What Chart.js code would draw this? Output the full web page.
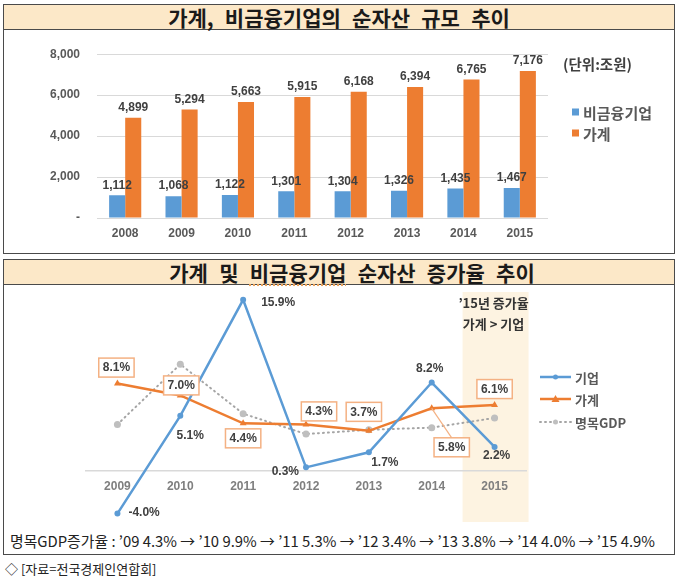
<!DOCTYPE html>
<html>
<head>
<meta charset="utf-8">
<script src="https://cdn.jsdelivr.net/npm/chart.js@4.4.1/dist/chart.umd.min.js"></script>
<style>
  html,body{margin:0;padding:0;}
  body{width:680px;height:580px;background:#fff;position:relative;overflow:hidden;font-family:"Noto Sans CJK KR","Noto Sans",sans-serif;}
  .box{position:absolute;left:3px;width:672px;border:1.5px solid #4a4a4a;box-sizing:border-box;}
  .tbar{height:24px;background:#FCE8C8;border-bottom:1.5px solid #4a4a4a;text-align:center;font-weight:700;font-size:21px;line-height:24px;color:#1a1a1a;white-space:nowrap;word-spacing:6.5px;box-sizing:content-box;}
  canvas{position:absolute;}
  .note{position:absolute;white-space:nowrap;color:#222;}
  .sq{text-decoration:underline dotted #E9A25A;text-underline-offset:3px;}
</style>
</head>
<body>
<div class="box" style="top:4px;height:250px;"><div class="tbar">가계, 비금융기업의 순자산 규모 추이</div></div>
<div class="box" style="top:259px;height:296px;"><div class="tbar" style="padding-left:26px;width:calc(100% - 26px);">가계 및 <span class="sq">비금융기업</span> 순자산 증가율 추이</div></div>
<canvas id="c1" width="670" height="222" style="left:4px;top:30px;width:670px;height:222px;"></canvas>
<canvas id="c2" width="670" height="240" style="left:4px;top:284px;width:670px;height:240px;"></canvas>
<div class="note" id="unit" style="left:563px;top:53px;font-size:14.5px;font-weight:700;color:#404040;">(단위:조원)</div>
<div class="note" id="gdpline" style="left:10px;top:530px;font-size:15px;transform-origin:0 0;"></div>
<div class="note" style="left:5px;top:559px;font-size:13px;">◇ [자료=전국경제인연합회]</div>
<script>
// ---------- data ----------
const assetYears = ['2008','2009','2010','2011','2012','2013','2014','2015'];
const corpAssets = [1112, 1068, 1122, 1301, 1304, 1326, 1435, 1467];
const houseAssets = [4899, 5294, 5663, 5915, 6168, 6394, 6765, 7176];
const assetTickLabels = ['-', '2,000', '4,000', '6,000', '8,000'];

const growthYears = ['2009','2010','2011','2012','2013','2014','2015'];
const corpGrowth = [-4.0, 5.1, 15.9, 0.3, 1.7, 8.2, 2.2];
const houseGrowth = [8.1, 7.0, 4.4, 4.3, 3.7, 5.8, 6.1];
const gdpGrowth = [4.3, 9.9, 5.3, 3.4, 3.8, 4.0, 4.9];

const BLUE = '#5B9BD5', ORANGE = '#ED7D31', GRAY = '#A5A5A5';
const NUMFONT = '"Liberation Sans","DejaVu Sans",sans-serif';
const KRFONT = '"Noto Sans CJK KR",sans-serif';

// ---------- chart 1 : bars ----------
const barPlugin = {
  id: 'barExtras',
  afterDatasetsDraw(chart) {
    const ctx = chart.ctx;
    ctx.save();
    ctx.font = 'bold 12px ' + NUMFONT;
    ctx.fillStyle = '#404040';
    ctx.textAlign = 'center';
    ctx.textBaseline = 'bottom';
    chart.data.datasets.forEach((ds, di) => {
      chart.getDatasetMeta(di).data.forEach((el, i) => {
        ctx.fillText(ds.data[i].toLocaleString('en-US'), el.x, el.y - 4);
      });
    });
    // legend
    const lx = chart.chartArea.right + 24;
    const ly = [82, 103];
    ctx.font = 'bold 15px ' + KRFONT;
    ctx.textAlign = 'left';
    ctx.textBaseline = 'middle';
    chart.data.datasets.forEach((ds, di) => {
      ctx.fillStyle = ds.backgroundColor;
      ctx.fillRect(lx, ly[di] - 3.5, 7, 7);
      ctx.fillStyle = '#595959';
      ctx.fillText(ds.label, lx + 11, ly[di] + 1);
    });
    ctx.restore();
  }
};

new Chart(document.getElementById('c1'), {
  type: 'bar',
  data: {
    labels: assetYears,
    datasets: [
      { label: '비금융기업', data: corpAssets, backgroundColor: BLUE, categoryPercentage: 0.57, barPercentage: 1 },
      { label: '가계', data: houseAssets, backgroundColor: ORANGE, categoryPercentage: 0.57, barPercentage: 1 }
    ]
  },
  options: {
    responsive: false, animation: false, devicePixelRatio: 1,
    layout: { padding: { left: 43, right: 126, top: 24, bottom: 0 } },
    plugins: { legend: { display: false }, tooltip: { enabled: false } },
    scales: {
      x: {
        grid: { display: false, drawTicks: false },
        border: { display: false },
        ticks: { color: '#595959', font: { family: NUMFONT, size: 12, weight: 'bold' }, padding: 8 },
        afterFit(s) { s.height = 34; }
      },
      y: {
        min: 0, max: 8000,
        ticks: { stepSize: 2000, color: '#595959', font: { family: NUMFONT, size: 12, weight: 'bold' }, padding: 17,
                 callback: (v, i) => assetTickLabels[i] },
        grid: { color: '#D9D9D9', lineWidth: 1, drawTicks: false },
        border: { display: false },
        afterFit(s) { s.width = 50; }
      }
    }
  },
  plugins: [barPlugin]
});

// ---------- chart 2 : lines ----------
// label placement (offsets from point), not data
const corpLabelPlace = [[11,-1,'left'],[10,20,'center'],[18,3,'left'],[-7,4,'right'],[16,10,'center'],[-2,-14,'center'],[2,9,'center']];
const houseLabelPlace = [[-1,-16],[1,-10],[0,15],[13,-13],[-5,-19],[20,39],[0,-16]];

const linePlugin = {
  id: 'lineExtras',
  beforeDraw(chart) {
    const ctx = chart.ctx, xs = chart.scales.x;
    const x = xs.getPixelForValue(growthYears.length - 1);
    ctx.save();
    ctx.fillStyle = '#FDF3E1';
    ctx.fillRect(x - 32, 8, 66, 230);
    ctx.fillStyle = '#333';
    ctx.font = 'bold 13px ' + KRFONT;
    ctx.textAlign = 'center';
    ctx.textBaseline = 'middle';
    ctx.fillText('\u201915년 증가율', x - 1, 19);
    ctx.fillText('가계 > 기업', x - 1, 40);
    ctx.restore();
  },
  afterDatasetsDraw(chart) {
    const ctx = chart.ctx;
    ctx.save();
    ctx.font = 'bold 12px ' + NUMFONT;
    ctx.textBaseline = 'middle';
    // corp labels
    chart.getDatasetMeta(0).data.forEach((el, i) => {
      const p = corpLabelPlace[i];
      ctx.textAlign = p[2];
      ctx.fillStyle = '#404040';
      ctx.fillText(corpGrowth[i].toFixed(1) + '%', el.x + p[0], el.y + p[1]);
    });
    // house labels, boxed
    chart.getDatasetMeta(1).data.forEach((el, i) => {
      const p = houseLabelPlace[i];
      const cx = el.x + p[0], cy = el.y + p[1];
      const t = houseGrowth[i].toFixed(1) + '%';
      const w = ctx.measureText(t).width + 8, h = 19;
      if (Math.abs(p[1]) > 25) {
        ctx.strokeStyle = '#F4B183'; ctx.lineWidth = 1.2;
        ctx.beginPath(); ctx.moveTo(el.x, el.y); ctx.lineTo(cx, cy - h / 2); ctx.stroke();
      }
      ctx.fillStyle = '#fff';
      ctx.fillRect(cx - w / 2, cy - h / 2, w, h);
      ctx.strokeStyle = '#F4B183'; ctx.lineWidth = 1.5;
      ctx.strokeRect(cx - w / 2, cy - h / 2, w, h);
      ctx.fillStyle = '#404040';
      ctx.textAlign = 'center';
      ctx.fillText(t, cx, cy + 0.5);
    });
    // legend
    const lx = chart.chartArea.right + 14;
    const ly = [93, 115, 138];
    ctx.font = 'bold 13px ' + KRFONT;
    chart.data.datasets.forEach((ds, di) => {
      const y = ly[di];
      ctx.strokeStyle = ds.borderColor;
      ctx.lineWidth = ds.borderWidth;
      ctx.setLineDash(ds.borderDash || []);
      ctx.lineCap = ds.borderDash ? 'round' : 'butt';
      ctx.beginPath(); ctx.moveTo(lx, y); ctx.lineTo(lx + 31, y); ctx.stroke();
      ctx.setLineDash([]);
      ctx.fillStyle = ds.pointBackgroundColor;
      const cx = lx + 15.5;
      if (ds.pointStyle === 'triangle') {
        ctx.beginPath(); ctx.moveTo(cx, y - 4); ctx.lineTo(cx + 4, y + 3); ctx.lineTo(cx - 4, y + 3); ctx.closePath(); ctx.fill();
      } else {
        ctx.beginPath(); ctx.arc(cx, y, 2.5, 0, Math.PI * 2); ctx.fill();
      }
      ctx.fillStyle = '#595959';
      ctx.textAlign = 'left';
      ctx.fillText(ds.label, lx + 35, y + 1);
    });
    ctx.restore();
  }
};

new Chart(document.getElementById('c2'), {
  type: 'line',
  data: {
    labels: growthYears,
    datasets: [
      { label: '기업', data: corpGrowth, borderColor: BLUE, borderWidth: 2.5, pointRadius: 3, pointBackgroundColor: BLUE, pointBorderColor: BLUE, pointBorderWidth: 0, tension: 0 },
      { label: '가계', data: houseGrowth, borderColor: ORANGE, borderWidth: 2.5, pointStyle: 'triangle', pointRadius: 4, pointBackgroundColor: ORANGE, pointBorderColor: ORANGE, pointBorderWidth: 0, tension: 0 },
      { label: '명목GDP', data: gdpGrowth, borderColor: GRAY, borderWidth: 2, borderDash: [1, 4], borderCapStyle: 'round', pointRadius: 3.5, pointBackgroundColor: '#BFBFBF', pointBorderColor: '#BFBFBF', pointBorderWidth: 0, tension: 0 }
    ]
  },
  options: {
    responsive: false, animation: false, devicePixelRatio: 1,
    layout: { padding: { left: 82, right: 148, top: 3, bottom: 3 } },
    plugins: { legend: { display: false }, tooltip: { enabled: false } },
    scales: {
      x: {
        position: { y: 0 },
        offset: true,
        grid: { display: false, drawTicks: false },
        border: { display: true, color: '#D9D9D9', width: 1.5 },
        ticks: { color: '#7F7F7F', font: { family: NUMFONT, size: 12, weight: 'bold' }, padding: 9 }
      },
      y: { display: false, min: -4.6, max: 17 }
    }
  },
  plugins: [linePlugin]
});

// bottom GDP text from data
const gdpText = '명목GDP증가율 : ' + growthYears.map((y, i) => '\u2019' + y.slice(2) + ' ' + gdpGrowth[i].toFixed(1) + '%').join(' → ');
const gl = document.getElementById('gdpline');
gl.textContent = gdpText;
const w = gl.getBoundingClientRect().width;
gl.style.transform = 'scaleX(' + (645 / w) + ')';
</script>
</body>
</html>
